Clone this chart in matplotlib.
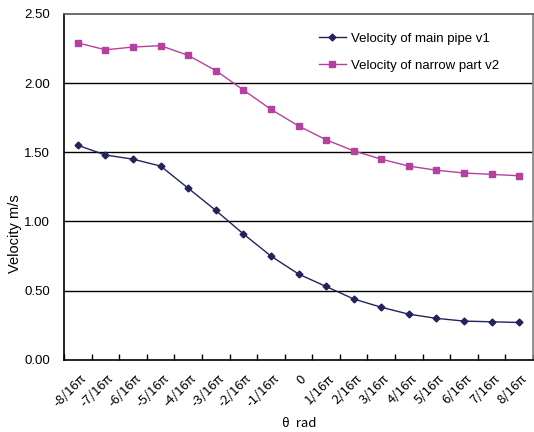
import numpy as np
import matplotlib
matplotlib.use("Agg")
import matplotlib.pyplot as plt

# ─── DATA ────────────────────────────────────────────────
angles = ["-8/16π", "-7/16π", "-6/16π", "-5/16π", "-4/16π", "-3/16π",
          "-2/16π", "-1/16π", "0", "1/16π", "2/16π", "3/16π", "4/16π",
          "5/16π", "6/16π", "7/16π", "8/16π"]
v1 = [1.55, 1.48, 1.45, 1.40, 1.24, 1.08, 0.91, 0.75, 0.62, 0.53,
      0.44, 0.38, 0.33, 0.30, 0.28, 0.275, 0.27]
v2 = [2.29, 2.24, 2.26, 2.27, 2.20, 2.09, 1.95, 1.81, 1.69, 1.59,
      1.51, 1.45, 1.40, 1.37, 1.35, 1.34, 1.33]
y_ticks = [0.0, 0.5, 1.0, 1.5, 2.0, 2.5]

BLUE = "#23235C"
PINK = "#B5409F"

plt.rcParams['font.family'] = ['Liberation Sans', 'Noto Sans CJK JP', 'DejaVu Sans']

fig = plt.figure(figsize=(5.34, 4.32), dpi=100)
ax = fig.add_axes([0.12, 0.167, 0.878, 0.801])

x = np.arange(len(angles))
ax.plot(x, v1, color=BLUE, lw=1, marker="D", ms=3.5, label="Velocity of main pipe v1")
ax.plot(x, v2, color=PINK, lw=1, marker="s", ms=5, label="Velocity of narrow part v2")

ax.set_xlim(-0.5, len(angles) - 0.5)
ax.set_ylim(0, 2.5)
ax.set_yticks(y_ticks)
ax.set_yticklabels([f"{t:.2f}" for t in y_ticks], fontsize=9.5)
ax.tick_params(axis="y", length=0, pad=10)

# ticks between categories
ax.set_xticks(np.arange(len(angles) + 1) - 0.5)
ax.set_xticklabels([])
ax.tick_params(axis="x", length=4, direction="in", width=1)
for i, lab in enumerate(angles):
    ax.text(i + 0.05, -0.09, lab, rotation=45, ha="right", va="top",
            rotation_mode="anchor", fontsize=9.5,
            family=['Noto Sans CJK JP', 'DejaVu Sans'])

for t in y_ticks[1:-1]:
    ax.axhline(t, color="black", lw=1, zorder=0)

ax.spines["left"].set_color("black")
ax.spines["bottom"].set_color("black")
ax.spines["top"].set_color("#555555")
ax.spines["right"].set_color("#808080")
for s in ax.spines.values():
    s.set_linewidth(1.2)

fig.text(0.028, 0.46, "Velocity m/s", rotation=90, ha="center", va="center",
         fontsize=10.5)
fig.text(0.56, 0.005, "θ  rad", ha="center", va="bottom", fontsize=9.5,
         family=['Noto Sans CJK JP', 'DejaVu Sans'])

ax.legend(loc="upper right", bbox_to_anchor=(0.953, 0.98), frameon=False,
          fontsize=9.5, handlelength=2.0, handletextpad=0.4, labelspacing=1.1)

fig.savefig("out.png", dpi=100)
